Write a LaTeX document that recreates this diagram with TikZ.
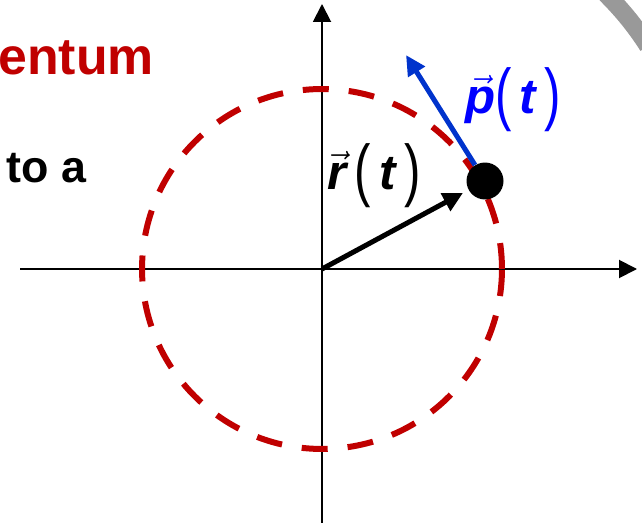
\documentclass[tikz,border=0pt]{standalone}
\usepackage{fontspec}
\setmainfont{Liberation Sans}
\usepackage{amsmath}
\usetikzlibrary{arrows.meta, positioning}
\definecolor{slidered}{RGB}{192,0,0}
\definecolor{arrowblue}{RGB}{0,51,204}
\newcommand{\tallparen}[1]{\raisebox{-0.08em}{\scalebox{1}[1.4]{\mdseries\upshape #1}}}

\begin{document}
\begin{tikzpicture}[x=0.02cm, y=-0.02cm,
    axis/.style={line width=1.1pt, -{Triangle[length=0.36cm, width=0.36cm]}},
    orbit/.style={slidered, line width=0.12cm, dash pattern=on 0.52cm off 0.4cm},
    vecline/.style={line width=0.1cm, -{Triangle[length=0.4cm, width=0.38cm]}},
    biglabel/.style={font=\bfseries\itshape\fontsize{28}{32}\selectfont}]
    \useasboundingbox (0,0) rectangle (642,523);

    % Page curl in the corner
    \draw[gray!80, line width=0.36cm] (606,-6) .. controls (620,8) and (634,24) .. (648,46);

    % Title fragments
    \node[anchor=base west, inner sep=0pt, slidered, font=\bfseries\fontsize{29.5}{34}\selectfont] (title) at (-2,75) {entum};
    \node[anchor=base west, inner sep=0pt, font=\bfseries\fontsize{25.5}{30}\selectfont] (text) at (6,183) {to a};

    % Axes
    \coordinate (O) at (322,269);
    \coordinate (xstart) at (20,269);
    \coordinate (xend) at (637,269);
    \coordinate (ystart) at (322,525);
    \coordinate (yend) at (322,4);
    \draw[axis] (xstart) -- (xend);
    \draw[axis] (ystart) -- (yend);

    % Orbit
    \draw[orbit] (O) circle (3.6cm);

    % Particle and vectors
    \node[circle, fill=black, minimum size=0.74cm, inner sep=0pt] (dot) at (485,181) {};
    \coordinate (ptip) at (406,55);
    \draw[vecline, shorten >=0.12cm] (O) -- (dot);
    \draw[vecline, arrowblue] (dot) -- (ptip);

    % Labels
    \node[biglabel] (rlabel) at (374,176) {$\vec{\hbox{r}}$\,\tallparen{(}\,t\,\tallparen{)}};
    \node[biglabel, blue] (plabel) at (513,100) {$\vec{\hbox{p}}$\tallparen{(}\,t\,\tallparen{)}};
\end{tikzpicture}
\end{document}
